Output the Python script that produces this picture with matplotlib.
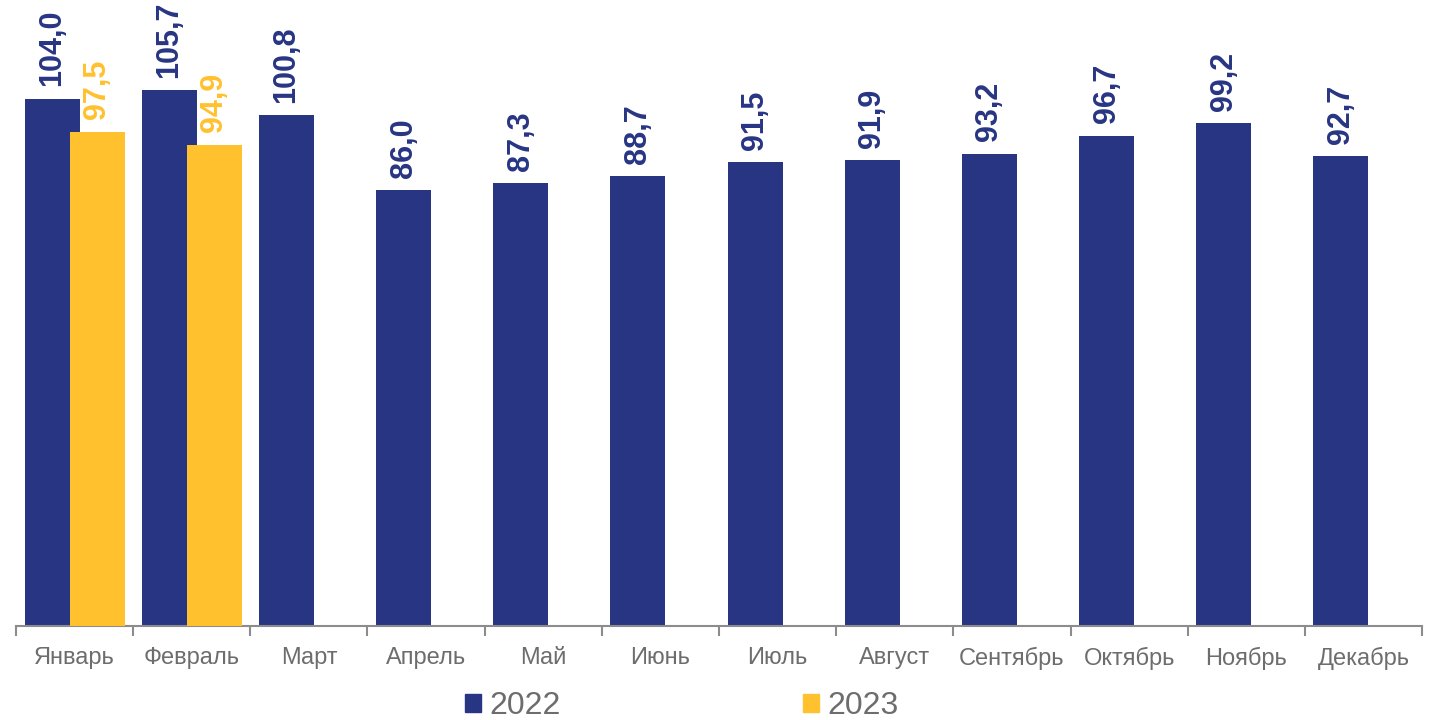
import matplotlib.pyplot as plt
from matplotlib.patches import Patch
import numpy as np

months = ["Январь", "Февраль", "Март", "Апрель", "Май", "Июнь", "Июль",
          "Август", "Сентябрь", "Октябрь", "Ноябрь", "Декабрь"]
values_2022 = [104.0, 105.7, 100.8, 86.0, 87.3, 88.7, 91.5, 91.9, 93.2, 96.7, 99.2, 92.7]
values_2023 = [97.5, 94.9]

blue = "#283583"
yellow = "#FFC12E"
grey = "#6d6d6d"

plt.rcParams["font.family"] = ["Liberation Sans", "DejaVu Sans"]

fig = plt.figure(figsize=(14.35, 7.2), dpi=100)
ax = fig.add_axes([16 / 1435, 94 / 720, 1406 / 1435, 626 / 720])

x = np.arange(len(months))
w = 0.47
off = 0.192

b1 = ax.bar(x - off, values_2022, width=w, color=blue, zorder=2)
x23 = np.arange(len(values_2023))
b2 = ax.bar(x23 + off, values_2023, width=w, color=yellow, zorder=3)

def fmt(v):
    return f"{v:.1f}".replace(".", ",")

# value labels, rotated
for bars, vals, col in [(b1, values_2022, blue), (b2, values_2023, yellow)]:
    for rect, v in zip(bars, vals):
        ax.annotate(fmt(v), (rect.get_x() + rect.get_width() / 2, v),
                    xytext=(0, 9), textcoords="offset points",
                    rotation=90, ha="center", va="bottom",
                    fontsize=22, fontweight="bold", color=col, zorder=4)

ax.set_xlim(-0.5, 11.5)
ax.set_ylim(0, 123.5)

for s in ["top", "right", "left"]:
    ax.spines[s].set_visible(False)
ax.spines["bottom"].set_color("#8c8c8c")
ax.spines["bottom"].set_linewidth(1.5)
ax.set_yticks([])

ax.set_xticks(x)
ax.set_xticklabels(months, fontsize=17, color=grey)
ax.tick_params(axis="x", which="major", length=0, pad=15)
ax.set_xticks(np.arange(-0.5, 12, 1), minor=True)
ax.tick_params(axis="x", which="minor", length=7, width=1.5, color="#8c8c8c")

handles = [Patch(color=blue, label="2022"), Patch(color=yellow, label="2023")]
fig.legend(handles=handles, loc="center", bbox_to_anchor=(682 / 1435, 14 / 720),
           ncol=2, frameon=False, fontsize=23, labelcolor=grey,
           handlelength=0.5, handleheight=0.5, handletextpad=0.25,
           columnspacing=7.6, borderpad=0)

fig.savefig("out.png", dpi=100)
